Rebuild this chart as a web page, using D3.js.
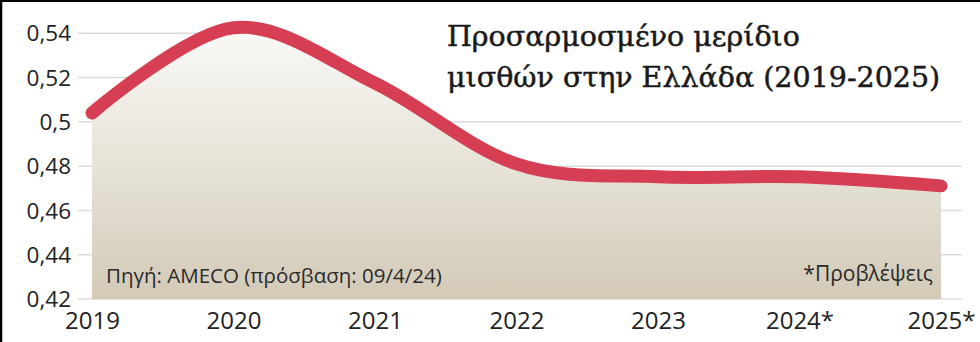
<!DOCTYPE html>
<html>
<head>
<meta charset="utf-8">
<script src="https://cdn.jsdelivr.net/npm/d3@7"></script>
<style>
  body { margin: 0; background: #fff; }
  svg { display: block; }
</style>
</head>
<body>
<div id="chart"></div>
<script>
// data
let years = ["2019", "2020", "2021", "2022", "2023", "2024*", "2025*"];
let wageShare = [0.504, 0.5425, 0.5175, 0.481, 0.4752, 0.4752, 0.4711];
let yTicks = [0.42, 0.44, 0.46, 0.48, 0.5, 0.52, 0.54];
let titleLines = ["Προσαρμοσμένο μερίδιο", "μισθών στην Ελλάδα (2019-2025)"];
let sourceText = "Πηγή: AMECO (πρόσβαση: 09/4/24)";
let noteText = "*Προβλέψεις";

let w = 980;
let h = 342;

let svg = d3.select("#chart")
    .append("svg")
    .attr("width", w)
    .attr("height", h);

let xScale = d3.scalePoint().domain(years).range([92, 941]);
let yScale = d3.scaleLinear().domain([0.42, 0.54]).range([299, 33.3]);

let fmt = d => String(d).replace(".", ",");

// gradient for the area
let defs = svg.append("defs");
let grad = defs.append("linearGradient")
    .attr("id", "areaGrad")
    .attr("gradientUnits", "userSpaceOnUse")
    .attr("x1", 0).attr("x2", 0)
    .attr("y1", yScale(0.545)).attr("y2", yScale(0.42));
grad.append("stop").attr("offset", "0%").attr("stop-color", "#fbfaf8");
grad.append("stop").attr("offset", "55%").attr("stop-color", "#e5e1d6");
grad.append("stop").attr("offset", "100%").attr("stop-color", "#d3cab7");

// grid lines
svg.append("g")
    .selectAll("line")
    .data(yTicks)
    .enter()
    .append("line")
    .attr("x1", 78)
    .attr("x2", 962)
    .attr("y1", d => yScale(d))
    .attr("y2", d => yScale(d))
    .attr("stroke", "#dcdcdc")
    .attr("stroke-width", 1.5);

// white block behind the title
svg.append("rect")
    .attr("x", 255)
    .attr("y", 0)
    .attr("width", w - 255)
    .attr("height", 100)
    .attr("fill", "#fff");

let points = years.map((y, i) => ({ year: y, value: wageShare[i] }));

let areaMaker = d3.area()
    .x(d => xScale(d.year))
    .y0(yScale(0.42))
    .y1(d => yScale(d.value))
    .curve(d3.curveCardinal);

let lineMaker = d3.line()
    .x(d => xScale(d.year))
    .y(d => yScale(d.value))
    .curve(d3.curveCardinal);

svg.append("path")
    .datum(points)
    .attr("d", areaMaker)
    .attr("fill", "url(#areaGrad)");

svg.append("path")
    .datum(points)
    .attr("d", lineMaker)
    .attr("fill", "none")
    .attr("stroke", "#d63f53")
    .attr("stroke-width", 13)
    .attr("stroke-linecap", "round");

// y axis labels
let yAxis = d3.axisLeft(yScale)
    .tickValues(yTicks)
    .tickFormat(fmt)
    .tickSize(0)
    .tickPadding(0);
let yAxisGroup = svg.append("g")
    .attr("transform", "translate(71,0)")
    .call(yAxis);
yAxisGroup.select(".domain").remove();
yAxisGroup.selectAll("text")
    .attr("font-family", "'Open Sans', sans-serif")
    .attr("font-size", 22.5)
    .attr("fill", "#222")
    .attr("dy", "0.34em");

// x axis labels
let xAxis = d3.axisBottom(xScale).tickSize(0).tickPadding(0);
let xAxisGroup = svg.append("g")
    .attr("transform", "translate(0,329)")
    .call(xAxis);
xAxisGroup.select(".domain").remove();
xAxisGroup.selectAll("text")
    .attr("font-family", "'Open Sans', sans-serif")
    .attr("font-size", 24)
    .attr("fill", "#222")
    .attr("dy", 0);

// title
svg.append("text")
    .attr("font-family", "'DejaVu Serif', serif")
    .attr("font-size", 28.5)
    .attr("fill", "#1a1a1a")
    .attr("stroke", "#1a1a1a")
    .attr("stroke-width", 0.5)
    .selectAll("tspan")
    .data(titleLines)
    .enter()
    .append("tspan")
    .attr("x", 447)
    .attr("y", (d, i) => 46 + i * 41)
    .text(d => d);

// source and note
svg.append("text")
    .attr("x", 106)
    .attr("y", 283)
    .attr("font-family", "'Open Sans', sans-serif")
    .attr("font-size", 20.5)
    .attr("fill", "#2a2a2a")
    .text(sourceText);

svg.append("text")
    .attr("x", 933)
    .attr("y", 281)
    .attr("text-anchor", "end")
    .attr("font-family", "'Open Sans', sans-serif")
    .attr("font-size", 21)
    .attr("fill", "#2a2a2a")
    .text(noteText);

// frame on top and left
svg.append("line")
    .attr("x1", 0).attr("x2", w)
    .attr("y1", 1).attr("y2", 1)
    .attr("stroke", "#000").attr("stroke-width", 2);
svg.append("line")
    .attr("x1", 1).attr("x2", 1)
    .attr("y1", 0).attr("y2", h)
    .attr("stroke", "#000").attr("stroke-width", 2.5);
</script>
</body>
</html>
